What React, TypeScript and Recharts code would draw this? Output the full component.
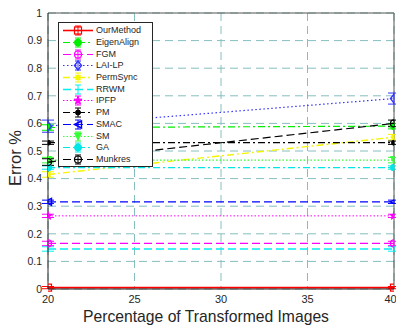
import React from 'react';
import {
  LineChart,
  Line,
  XAxis,
  YAxis,
  CartesianGrid,
  ErrorBar,
  Legend,
  Label,
  ReferenceLine,
} from 'recharts';

// x values (percentage of transformed images)
const percentages = [20, 40];
const xTicks = [20, 25, 30, 35, 40];
const yTicks = [0, 0.1, 0.2, 0.3, 0.4, 0.5, 0.6, 0.7, 0.8, 0.9, 1];

// error rates
const ourMethod = [0.005, 0.005];
const eigenAlign = [0.585, 0.59];
const fgm = [0.165, 0.165];
const laiLp = [0.59, 0.69];
const permSync = [0.415, 0.55];
const rrwm = [0.145, 0.145];
const ipfp = [0.265, 0.265];
const pm = [0.53, 0.53];
const smac = [0.316, 0.316];
const sm = [0.467, 0.467];
const ga = [0.44, 0.44];
const munkres = [0.46, 0.6];

// error bar half-widths
const ourMethodErr = [0.004, 0.004];
const eigenAlignErr = [0.01, 0.01];
const fgmErr = [0.008, 0.008];
const laiLpErr = [0.022, 0.02];
const permSyncErr = [0.01, 0.01];
const rrwmErr = [0.008, 0.008];
const ipfpErr = [0.006, 0.006];
const pmErr = [0.006, 0.006];
const smacErr = [0.006, 0.006];
const smErr = [0.01, 0.01];
const gaErr = [0.006, 0.006];
const munkresErr = [0.012, 0.012];

type MarkerKind =
  | 'square'
  | 'dot'
  | 'circlePlus'
  | 'diamond'
  | 'asterisk'
  | 'none'
  | 'star'
  | 'smallDot'
  | 'triLeft'
  | 'triDown';

type Series = {
  key: string;
  name: string;
  color: string;
  dash?: string;
  width: number;
  marker: MarkerKind;
  values: number[];
  err: number[];
};

const series: Series[] = [
  { key: 'ourMethod', name: 'OurMethod', color: '#ff0000', width: 1.6, marker: 'square', values: ourMethod, err: ourMethodErr },
  { key: 'eigenAlign', name: 'EigenAlign', color: '#00ee00', dash: '7 3 2 3', width: 1.2, marker: 'dot', values: eigenAlign, err: eigenAlignErr },
  { key: 'fgm', name: 'FGM', color: '#ff00ff', dash: '8 4', width: 1.2, marker: 'circlePlus', values: fgm, err: fgmErr },
  { key: 'laiLp', name: 'LAI-LP', color: '#3333ff', dash: '1.5 2.5', width: 1.2, marker: 'diamond', values: laiLp, err: laiLpErr },
  { key: 'permSync', name: 'PermSync', color: '#f5f500', dash: '7 3 2 3', width: 1.4, marker: 'asterisk', values: permSync, err: permSyncErr },
  { key: 'rrwm', name: 'RRWM', color: '#00f0f0', dash: '8 4', width: 1.4, marker: 'none', values: rrwm, err: rrwmErr },
  { key: 'ipfp', name: 'IPFP', color: '#ff00ff', dash: '1.5 2', width: 1, marker: 'star', values: ipfp, err: ipfpErr },
  { key: 'pm', name: 'PM', color: '#000000', dash: '7 3 2 3', width: 1.2, marker: 'smallDot', values: pm, err: pmErr },
  { key: 'smac', name: 'SMAC', color: '#0000ff', dash: '8 4', width: 1.2, marker: 'triLeft', values: smac, err: smacErr },
  { key: 'sm', name: 'SM', color: '#33ff33', dash: '1.5 2', width: 1.2, marker: 'triDown', values: sm, err: smErr },
  { key: 'ga', name: 'GA', color: '#00e5e5', dash: '7 3 2 3', width: 1.2, marker: 'dot', values: ga, err: gaErr },
  { key: 'munkres', name: 'Munkres', color: '#000000', dash: '8 4', width: 1.2, marker: 'circlePlus', values: munkres, err: munkresErr },
];

const rows = percentages.map((x, i) => {
  const r: Record<string, number> = { x };
  series.forEach((s) => {
    r[s.key] = s.values[i];
    r[s.key + 'Err'] = s.err[i];
  });
  return r;
});

const FONT = '"Liberation Sans", Arial, Helvetica, sans-serif';
const AXIS = '#262626';

function Marker({ kind, cx, cy, color }: { kind: MarkerKind; cx: number; cy: number; color: string }) {
  const r = 3.5;
  switch (kind) {
    case 'square':
      return <rect x={cx - r} y={cy - r} width={2 * r} height={2 * r} fill="none" stroke={color} strokeWidth={1.2} />;
    case 'dot':
      return <circle cx={cx} cy={cy} r={r} fill={color} stroke={color} />;
    case 'smallDot':
      return <circle cx={cx} cy={cy} r={2.5} fill={color} stroke={color} />;
    case 'circlePlus':
      return (
        <g stroke={color} strokeWidth={1.2} fill="none">
          <circle cx={cx} cy={cy} r={r} />
          <line x1={cx - r} y1={cy} x2={cx + r} y2={cy} />
        </g>
      );
    case 'diamond':
      return (
        <path
          d={`M${cx},${cy - r - 1}L${cx + r},${cy}L${cx},${cy + r + 1}L${cx - r},${cy}Z`}
          fill="none"
          stroke={color}
          strokeWidth={1.4}
        />
      );
    case 'asterisk':
      return (
        <g stroke={color} strokeWidth={1.4}>
          <line x1={cx - r} y1={cy} x2={cx + r} y2={cy} />
          <line x1={cx - r * 0.7} y1={cy - r * 0.7} x2={cx + r * 0.7} y2={cy + r * 0.7} />
          <line x1={cx - r * 0.7} y1={cy + r * 0.7} x2={cx + r * 0.7} y2={cy - r * 0.7} />
          <circle cx={cx} cy={cy} r={1.8} fill={color} />
        </g>
      );
    case 'star': {
      const pts: string[] = [];
      for (let k = 0; k < 10; k++) {
        const a = -Math.PI / 2 + (k * Math.PI) / 5;
        const rr = k % 2 === 0 ? r + 0.8 : (r + 0.8) * 0.4;
        pts.push(`${cx + rr * Math.cos(a)},${cy + rr * Math.sin(a)}`);
      }
      return <polygon points={pts.join(' ')} fill={color} stroke={color} />;
    }
    case 'triLeft':
      return (
        <path
          d={`M${cx - r},${cy}L${cx + r},${cy - r}L${cx + r},${cy + r}Z`}
          fill="none"
          stroke={color}
          strokeWidth={1.4}
        />
      );
    case 'triDown':
      return <path d={`M${cx - r},${cy - r}L${cx + r},${cy - r}L${cx},${cy + r}Z`} fill={color} stroke={color} />;
    default:
      return <g />;
  }
}

// legend keeps the plotting order (Recharts would sort it by name)
function LegendBox() {
  return (
    <div
      style={{
        boxSizing: 'border-box',
        width: 95,
        border: `1px solid ${AXIS}`,
        background: '#fff',
        padding: '2px 0 1px 3px',
        fontFamily: FONT,
        fontSize: 9,
        color: AXIS,
      }}
    >
      {series.map((s) => (
        <div key={s.key} style={{ display: 'flex', alignItems: 'center', height: 11.7 }}>
          <svg width={31} height={11} style={{ marginRight: 3, flex: 'none' }}>
            <line x1={1} y1={5.5} x2={31} y2={5.5} stroke={s.color} strokeWidth={s.width} strokeDasharray={s.dash} />
            <g stroke={s.color} strokeWidth={1}>
              <line x1={16} y1={1} x2={16} y2={10} />
              <line x1={13} y1={1} x2={19} y2={1} />
              <line x1={13} y1={10} x2={19} y2={10} />
            </g>
            <Marker kind={s.marker} cx={16} cy={5.5} color={s.color} />
          </svg>
          <span style={{ lineHeight: '11px', whiteSpace: 'nowrap' }}>{s.name}</span>
        </div>
      ))}
    </div>
  );
}

export default function App() {
  return (
    <div style={{ position: 'absolute', left: 0, top: 0, width: 396, height: 326, background: '#fff' }}>
      <LineChart
        width={396}
        height={326}
        data={rows}
        margin={{ top: 13, right: 2, bottom: 7, left: 0 }}
        style={{ fontFamily: FONT }}
      >
        <CartesianGrid stroke="#86bebe" strokeDasharray="8 5" strokeWidth={1} />
        <XAxis
          dataKey="x"
          type="number"
          domain={[20, 40]}
          ticks={xTicks}
          allowDataOverflow
          height={30}
          tickLine={false}
          axisLine={{ stroke: AXIS }}
          tick={{ fontSize: 11, fill: AXIS }}
          tickSize={4}
          tickMargin={2}
        >
          <Label
            content={() => (
              <text
                x={206}
                y={322}
                textAnchor="middle"
                style={{ fontSize: 15.7, fill: AXIS, fontFamily: FONT }}
              >
                Percentage of Transformed Images
              </text>
            )}
          />
        </XAxis>
        <YAxis
          type="number"
          domain={[0, 1]}
          ticks={yTicks}
          width={48}
          tickLine={false}
          axisLine={{ stroke: AXIS }}
          tick={{ fontSize: 10.5, fill: AXIS }}
          tickSize={4}
          tickMargin={2}
        >
          <Label
            content={(lp: any) => {
              const vb = lp.viewBox || { x: 0, y: 0, height: 0 };
              const cy = vb.y + vb.height / 2 + 7;
              return (
                <text
                  x={20.5}
                  y={cy}
                  transform={`rotate(-90, 20.5, ${cy})`}
                  textAnchor="middle"
                  style={{ fontSize: 16.5, fill: AXIS, fontFamily: FONT }}
                >
                  Error %
                </text>
              );
            }}
          />
        </YAxis>
        <ReferenceLine y={1} stroke="#555" strokeWidth={1} />
        <ReferenceLine x={40} stroke="#555" strokeWidth={1} />
        {series.map((s) => (
          <Line
            key={s.key}
            dataKey={s.key}
            name={s.name}
            type="linear"
            stroke={s.color}
            strokeWidth={s.width}
            strokeDasharray={s.dash}
            isAnimationActive={false}
            dot={(p: any) => (
              <Marker key={`${s.key}-${p.index}`} kind={s.marker} cx={p.cx} cy={p.cy} color={s.color} />
            )}
            activeDot={false}
          >
            <ErrorBar dataKey={s.key + 'Err'} width={6} stroke={s.color} strokeWidth={1} direction="y" />
          </Line>
        ))}
        <Legend
          layout="vertical"
          align="center"
          verticalAlign="middle"
          content={<LegendBox />}
          wrapperStyle={{ left: 58, top: 22, width: 'auto', height: 'auto' }}
        />
      </LineChart>
    </div>
  );
}
